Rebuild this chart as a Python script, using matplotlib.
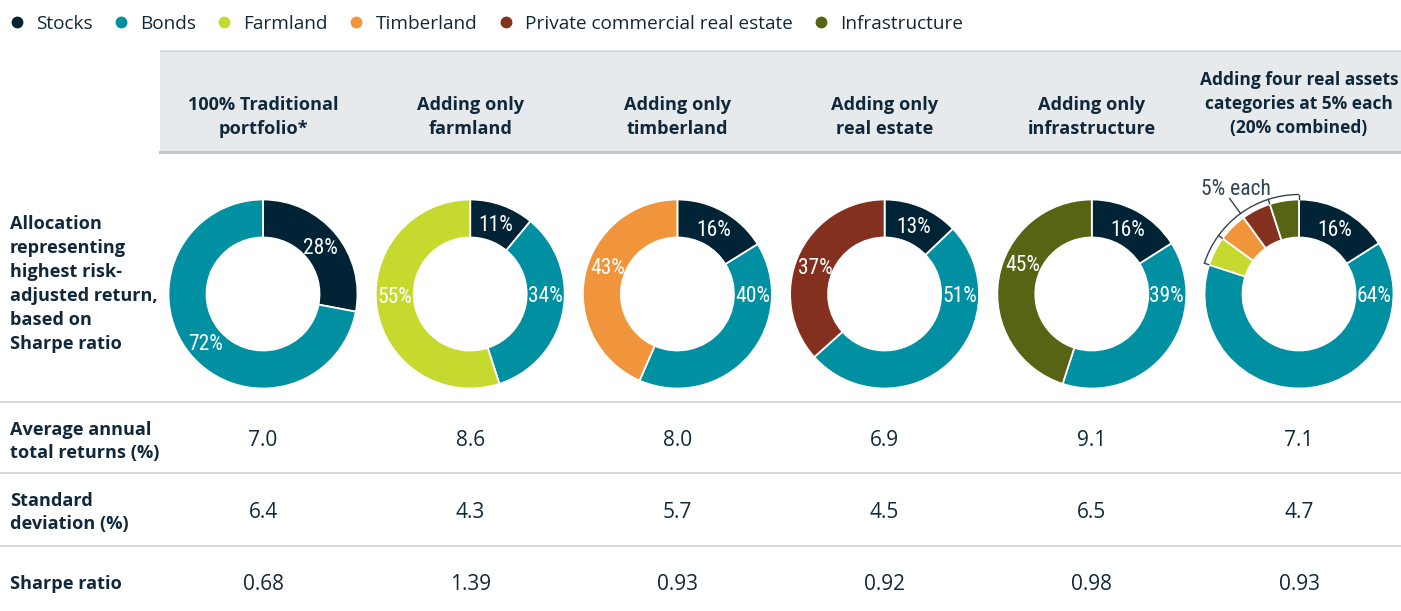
import matplotlib
matplotlib.use('Agg')
import matplotlib.pyplot as plt
from matplotlib.patches import Rectangle, Arc
from matplotlib.lines import Line2D
from matplotlib import font_manager as fm
import numpy as np

# ---------------- data ----------------
assets = ['Stocks', 'Bonds', 'Farmland', 'Timberland',
          'Private commercial real estate', 'Infrastructure']
asset_colors = ['#002435', '#0090a1', '#c5d92e', '#f0953b', '#84301f', '#566413']
headers = ['100% Traditional\nportfolio*',
           'Adding only\nfarmland',
           'Adding only\ntimberland',
           'Adding only\nreal estate',
           'Adding only\ninfrastructure',
           'Adding four real assets\ncategories at 5% each\n(20% combined)']
stocks = [28, 11, 16, 13, 16, 16]
bonds = [72, 34, 40, 51, 39, 64]
farmland = [0, 55, 0, 0, 0, 5]
timberland = [0, 0, 43, 0, 0, 5]
real_estate = [0, 0, 0, 37, 0, 5]
infrastructure = [0, 0, 0, 0, 45, 5]
avg_returns = [7.0, 8.6, 8.0, 6.9, 9.1, 7.1]
std_dev = [6.4, 4.3, 5.7, 4.5, 6.5, 4.7]
sharpe = [0.68, 1.39, 0.93, 0.92, 0.98, 0.93]
row_labels = ['Allocation\nrepresenting\nhighest risk-\nadjusted return,\nbased on\nSharpe ratio',
              'Average annual\ntotal returns (%)',
              'Standard\ndeviation (%)',
              'Sharpe ratio']
bracket_text = '5% each'

# ---------------- layout ----------------
W, H = 1401, 611
DPI = 100
TXT = '#10283a'
names = {f.name for f in fm.fontManager.ttflist}
MAIN = 'Open Sans' if 'Open Sans' in names else 'DejaVu Sans'
if 'Liberation Sans Narrow' in names:
    COND = dict(family='Liberation Sans Narrow')
elif 'Roboto Condensed' in names:
    COND = dict(family='Roboto Condensed')
else:
    COND = dict(family='DejaVu Sans', stretch='condensed')

fig = plt.figure(figsize=(W / DPI, H / DPI), dpi=DPI)
ax = fig.add_axes([0, 0, 1, 1])


def Y(y):
    return H - y


def pt2px(pt):
    return pt * DPI / 72.0


def lines_text(x, ys, text, size, color=TXT, **kw):
    for yy, line in zip(ys, text.split('\n')):
        ax.text(x, Y(yy + 0.36 * pt2px(size)), line, fontsize=size, va='baseline',
                color=color, **kw)


col_x = [263 + i * 207.2 for i in range(6)]
DONUT_Y = 294
R_OUT, R_IN = 94.5, 56.5
LABEL_R = 75
label_override = [{}, {1: 0, 2: 181}, {1: 0, 3: 158}, {1: 0, 4: 158}, {1: 0, 5: 156}, {1: 0}]

# header band
ax.add_patch(Rectangle((160, Y(152)), W - 160, 102, facecolor='#e6eaed', edgecolor='none', zorder=0))
ax.plot([160, W], [Y(50.5), Y(50.5)], color='#cdd1d4', lw=0.8, zorder=1)
ax.plot([160, W], [Y(152), Y(152)], color='#c3c7ca', lw=2.2, zorder=1)

# row separators
for yy in [402, 473, 546]:
    ax.plot([0, W], [Y(yy), Y(yy)], color='#d8dbde', lw=1.5, zorder=1)

# header texts
HSIZE = 13.1
for i, h in enumerate(headers):
    n = len(h.split('\n'))
    ys = [127 - 24 * (n - 1 - k) for k in range(n)]
    size = HSIZE if n < 3 else 12.5
    lines_text(col_x[i], ys, h, size, ha='center', family=MAIN, weight='bold')

# row labels
lines_text(10, [222 + 24 * k for k in range(6)], row_labels[0], HSIZE, ha='left', family=MAIN, weight='bold')
lines_text(10, [428, 451], row_labels[1], HSIZE, ha='left', family=MAIN, weight='bold')
lines_text(10, [499, 522], row_labels[2], HSIZE, ha='left', family=MAIN, weight='bold')
lines_text(10, [582], row_labels[3], HSIZE, ha='left', family=MAIN, weight='bold')

# values
VSIZE = 15
for i in range(6):
    lines_text(col_x[i], [438], f'{avg_returns[i]:.1f}', VSIZE, ha='center', family=MAIN)
    lines_text(col_x[i], [511], f'{std_dev[i]:.1f}', VSIZE, ha='center', family=MAIN)
    lines_text(col_x[i], [582], f'{sharpe[i]:.2f}', VSIZE, ha='center', family=MAIN)

# donuts
series = [stocks, bonds, farmland, timberland, real_estate, infrastructure]
LSIZE = 15.5
for i in range(6):
    vals = [s[i] for s in series]
    idx = [k for k, v in enumerate(vals) if v > 0]
    v_nz = [vals[k] for k in idx]
    c_nz = [asset_colors[k] for k in idx]
    cx, cy = col_x[i], Y(DONUT_Y)
    ax.pie(v_nz, colors=c_nz, startangle=90, counterclock=False, radius=R_OUT,
           center=(cx, cy),
           wedgeprops=dict(width=R_OUT - R_IN, edgecolor='white', linewidth=1.3))
    total = float(sum(v_nz))
    cum = 0.0
    bounds = {}
    for k, v in zip(idx, v_nz):
        a0 = 90 - 360 * cum / total
        a1 = 90 - 360 * (cum + v) / total
        bounds[k] = (a0, a1)
        mid = (a0 + a1) / 2
        ang = label_override[i].get(k, mid)
        if v >= 10:
            lx = cx + LABEL_R * np.cos(np.radians(ang))
            ly = cy + LABEL_R * np.sin(np.radians(ang))
            ax.text(lx, ly - 0.36 * pt2px(LSIZE), f'{v}%', color='white', fontsize=LSIZE,
                    ha='center', va='baseline', **COND)
        cum += v
    small = [k for k, v in zip(idx, v_nz) if v < 10]
    if len(small) > 1:
        # bracket around the small slices
        angs = sorted({round(bounds[k][0] % 360, 3) for k in small} |
                      {round(bounds[k][1] % 360, 3) for k in small})
        RB = 99.5
        ax.add_patch(Arc((cx, cy), 2 * RB, 2 * RB, theta1=min(angs), theta2=max(angs),
                         color='#33434f', lw=1.0))
        mid_idx = len(angs) // 2
        for j, a in enumerate(angs):
            r = np.radians(a)
            if j == mid_idx:
                ax.plot([cx + RB * np.cos(r), cx + 118 * np.cos(r)],
                        [cy + RB * np.sin(r), cy + 118 * np.sin(r)], color='#33434f', lw=1.0)
            else:
                ax.plot([cx + RB * np.cos(r), cx + (R_OUT + 0.5) * np.cos(r)],
                        [cy + RB * np.sin(r), cy + (R_OUT + 0.5) * np.sin(r)], color='#33434f', lw=1.0)
        ra = np.radians(angs[mid_idx])
        tx = cx + 118 * np.cos(ra) + 6
        ty = cy + 118 * np.sin(ra) + 11
        ax.text(tx, ty - 0.36 * pt2px(LSIZE), bracket_text, color='#33434f', fontsize=LSIZE,
                ha='center', va='baseline', **COND)

# legend
handles = [Line2D([], [], marker='o', linestyle='none', markersize=7.5,
                  markerfacecolor=c, markeredgecolor=c) for c in asset_colors]
ax.legend(handles, assets, loc='center left', bbox_to_anchor=(10 / W, 1 - 24 / H),
          bbox_transform=fig.transFigure, ncol=6, frameon=False,
          prop=dict(family=MAIN, size=13.7), labelcolor=TXT,
          handlelength=0.7, handletextpad=0.65, columnspacing=1.15,
          borderpad=0, borderaxespad=0)

ax.set_xlim(0, W)
ax.set_ylim(0, H)
ax.set_aspect('auto')
ax.axis('off')
fig.savefig('out.png', dpi=DPI)
